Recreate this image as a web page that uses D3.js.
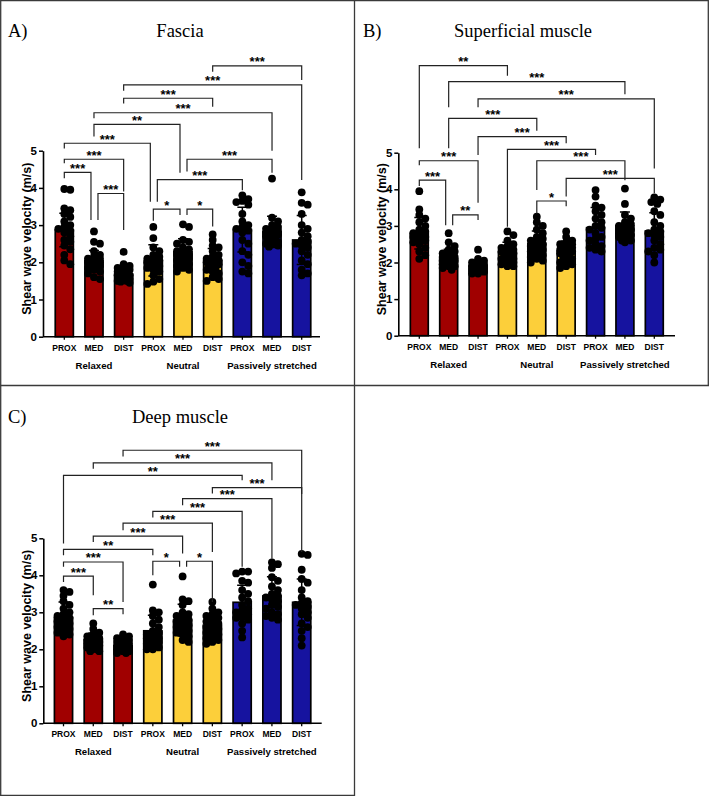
<!DOCTYPE html>
<html><head><meta charset="utf-8">
<script src="https://cdn.jsdelivr.net/npm/d3@7"></script>
<style>body{margin:0;background:#fff}svg{display:block}</style>
</head><body>
<svg id="chart" width="709" height="796"></svg>
<script>
// ---------------- data ----------------
const categories = ["PROX","MED","DIST","PROX","MED","DIST","PROX","MED","DIST"];
const groups = ["Relaxed","Neutral","Passively stretched"];
const groupOfBar = [0,0,0,1,1,1,2,2,2];
const yTicks = [0,1,2,3,4,5];
const titles = ["Fascia","Superficial muscle","Deep muscle"];
const panelLetters = ["A)","B)","C)"];
const yLabel = "Shear wave velocity (m/s)";

const fasciaMean = [2.87,2.05,1.68,2.05,2.28,2.05,2.88,2.82,2.60];
const fasciaSD   = [0.45,0.27,0.18,0.42,0.35,0.32,0.60,0.42,0.66];
const fasciaPoints = [
  [3.97,3.95,3.45,3.4,3.3,3.22,3.1,3.0,2.95,2.9,2.85,2.8,2.7,2.6,2.55,2.45,2.35,2.2,2.05,1.95],
  [2.83,2.55,2.5,2.3,2.2,2.15,2.1,2.1,2.05,2.05,2.0,2.0,1.95,1.9,1.85,1.8,1.75,1.7,1.6,1.55],
  [2.28,1.95,1.9,1.85,1.8,1.8,1.75,1.7,1.7,1.68,1.65,1.65,1.6,1.6,1.55,1.55,1.5,1.5,1.48,1.45],
  [2.95,2.65,2.4,2.3,2.2,2.15,2.1,2.05,2.05,2.0,2.0,1.95,1.9,1.85,1.8,1.75,1.65,1.55,1.48,1.42],
  [3.02,2.95,2.6,2.55,2.5,2.4,2.35,2.3,2.25,2.2,2.2,2.15,2.1,2.05,2.0,1.95,1.9,1.85,1.8,1.75],
  [2.75,2.6,2.45,2.4,2.3,2.2,2.15,2.1,2.05,2.0,2.0,1.95,1.9,1.85,1.8,1.75,1.7,1.6,1.55,1.5],
  [3.8,3.7,3.65,3.62,3.55,3.3,3.1,3.0,2.95,2.9,2.85,2.8,2.6,2.5,2.3,2.2,2.0,1.9,1.75,1.7],
  [4.25,3.2,3.1,3.0,2.95,2.9,2.85,2.85,2.8,2.8,2.75,2.75,2.7,2.65,2.6,2.55,2.5,2.5,2.45,2.42],
  [3.88,3.6,3.55,3.3,3.0,2.9,2.8,2.7,2.6,2.55,2.5,2.45,2.4,2.3,2.2,2.05,1.95,1.8,1.7,1.65]
];
// [from bar, to bar, bracket level, left leg end, right leg end, label]
const fasciaSig = [
  [5,8,7.28,7.12,6.90,"***"],
  [2,8,6.77,6.61,4.21,"***"],
  [2,5,6.41,6.27,6.18,"***"],
  [1,7,6.02,5.87,5.00,"***"],
  [1,4,5.71,5.38,4.41,"**"],
  [0,3,5.20,5.06,3.63,"***"],
  [0,2,4.77,4.66,3.90,"***"],
  [0,1,4.42,4.26,3.14,"***"],
  [1,2,3.85,3.14,2.87,"***"],
  [4,7,4.77,4.44,4.41,"***"],
  [3,6,4.22,3.63,3.94,"***"],
  [3,4,3.43,3.12,3.27,"*"],
  [4,5,3.43,3.27,2.96,"*"]
];

const superficialMean = [2.80,2.11,1.91,2.28,2.52,2.32,2.95,3.00,2.86];
const superficialSD   = [0.43,0.25,0.15,0.27,0.34,0.27,0.55,0.38,0.50];
const superficialPoints = [
  [3.95,3.45,3.3,3.2,3.1,3.0,2.9,2.85,2.8,2.75,2.7,2.7,2.65,2.6,2.55,2.5,2.4,2.3,2.2,2.1],
  [2.8,2.55,2.45,2.35,2.3,2.25,2.2,2.15,2.15,2.1,2.1,2.05,2.05,2.0,2.0,1.95,1.9,1.9,1.85,1.8],
  [2.35,2.1,2.05,2.0,2.0,1.95,1.95,1.9,1.9,1.9,1.85,1.85,1.85,1.8,1.8,1.8,1.75,1.75,1.7,1.7],
  [2.85,2.75,2.6,2.5,2.45,2.4,2.35,2.3,2.3,2.25,2.2,2.2,2.15,2.1,2.1,2.05,2.0,1.95,1.9,1.9],
  [3.25,3.1,3.0,2.9,2.8,2.7,2.65,2.6,2.55,2.5,2.45,2.4,2.35,2.3,2.25,2.2,2.15,2.1,2.05,2.0],
  [2.85,2.7,2.6,2.55,2.5,2.5,2.45,2.4,2.35,2.3,2.3,2.25,2.2,2.15,2.1,2.05,2.0,1.95,1.9,1.85],
  [3.98,3.8,3.55,3.5,3.4,3.3,3.2,3.1,3.0,2.95,2.9,2.8,2.7,2.65,2.6,2.5,2.45,2.4,2.35,2.3],
  [4.02,3.6,3.3,3.2,3.1,3.05,3.0,2.95,2.9,2.9,2.85,2.85,2.8,2.75,2.75,2.7,2.65,2.6,2.6,2.55],
  [3.78,3.72,3.65,3.6,3.4,3.3,3.1,3.0,2.9,2.85,2.8,2.75,2.7,2.6,2.5,2.4,2.35,2.3,2.2,2.0]
];
const superficialSig = [
  [0,3,7.38,5.12,7.10,"**"],
  [1,7,6.94,6.24,6.60,"***"],
  [2,8,6.47,6.24,4.57,"***"],
  [1,4,5.94,5.12,5.60,"***"],
  [2,5,5.44,4.94,5.26,"***"],
  [3,6,5.09,2.98,4.94,"***"],
  [0,2,4.78,4.66,3.63,"***"],
  [4,7,4.78,3.98,4.25,"***"],
  [0,1,4.25,4.09,3.02,"***"],
  [5,8,4.30,3.80,3.89,"***"],
  [1,2,3.30,3.02,3.16,"**"],
  [4,5,3.68,3.34,3.54,"*"]
];

const deepMean = [2.86,2.26,2.10,2.50,2.79,2.65,3.27,3.44,3.27];
const deepSD   = [0.42,0.18,0.12,0.42,0.43,0.30,0.46,0.52,0.63];
const deepPoints = [
  [3.6,3.55,3.45,3.3,3.2,3.1,3.0,2.95,2.9,2.85,2.8,2.75,2.7,2.65,2.6,2.55,2.5,2.45,2.4,2.35],
  [2.7,2.55,2.45,2.4,2.35,2.3,2.3,2.25,2.25,2.2,2.2,2.2,2.15,2.15,2.1,2.1,2.05,2.0,1.95,1.95],
  [2.4,2.35,2.3,2.25,2.25,2.2,2.2,2.15,2.15,2.1,2.1,2.1,2.05,2.05,2.0,2.0,1.95,1.95,1.9,1.9],
  [3.75,3.05,3.0,2.9,2.8,2.7,2.6,2.5,2.45,2.4,2.35,2.3,2.3,2.25,2.2,2.15,2.1,2.05,2.0,2.0],
  [3.97,3.35,3.3,3.2,3.0,2.95,2.9,2.85,2.8,2.75,2.7,2.65,2.6,2.55,2.5,2.45,2.4,2.35,2.25,2.2],
  [3.28,3.1,3.0,2.95,2.9,2.85,2.8,2.75,2.7,2.65,2.6,2.55,2.5,2.45,2.4,2.35,2.3,2.25,2.2,2.15],
  [4.1,4.1,4.05,3.85,3.8,3.6,3.5,3.4,3.3,3.2,3.1,3.05,3.0,2.95,2.9,2.85,2.8,2.7,2.5,2.32],
  [4.35,4.3,4.2,3.95,3.85,3.7,3.6,3.5,3.45,3.4,3.35,3.3,3.2,3.15,3.1,3.0,2.95,2.9,2.85,2.8],
  [4.58,4.55,4.15,3.9,3.8,3.6,3.4,3.3,3.25,3.2,3.15,3.1,3.0,2.95,2.85,2.7,2.6,2.5,2.3,2.1]
];
const deepSig = [
  [2,8,7.38,7.21,4.63,"***"],
  [1,7,7.04,6.88,6.57,"***"],
  [0,6,6.70,4.86,6.57,"**"],
  [5,8,6.37,6.21,6.20,"***"],
  [4,7,6.07,5.89,4.45,"***"],
  [3,6,5.73,5.56,4.23,"***"],
  [2,5,5.41,5.22,4.63,"***"],
  [1,4,5.06,4.90,4.59,"***"],
  [0,3,4.70,4.54,4.54,"**"],
  [0,2,4.36,4.23,3.28,"***"],
  [0,1,3.98,3.82,3.46,"***"],
  [3,4,4.38,4.00,4.23,"*"],
  [4,5,4.38,4.23,3.28,"*"],
  [1,2,3.10,2.92,2.95,"**"]
];

// ---------------- styling / layout ----------------
const groupColors = ["#a00000","#fccf3a","#16139f"];
const sansFont = "'Liberation Sans', Arial, sans-serif";
const serifFont = "'Liberation Serif', 'Times New Roman', serif";

const panels = [
  {mean:fasciaMean, sd:fasciaSD, pts:fasciaPoints, sig:fasciaSig,
   axisX:43, xEnd:320, y0:336.7, y5:150.7, b0:64.3, b8:301.7, titleX:180, titleY:37.3, letterX:8},
  {mean:superficialMean, sd:superficialSD, pts:superficialPoints, sig:superficialSig,
   axisX:398.3, xEnd:675, y0:335.7, y5:152.7, b0:419.3, b8:654.3, titleX:523, titleY:37.3, letterX:363},
  {mean:deepMean, sd:deepSD, pts:deepPoints, sig:deepSig,
   axisX:43.3, xEnd:321.7, y0:723.3, y5:538.3, b0:63.5, b8:301.7, titleX:180, titleY:422.5, letterX:8}
];

const svg = d3.select("#chart");
svg.append("rect").attr("width",709).attr("height",796).attr("fill","#fff");

// panel frames
const frame = svg.append("g").attr("stroke","#3a3a3a").attr("stroke-width",1.3).attr("fill","none");
frame.append("path").attr("d","M0.7,795.4 V0.7 H708.3 V385.5");
frame.append("path").attr("d","M0,385.5 H709");
frame.append("path").attr("d","M354.5,0 V795.4 H0");

panels.forEach((P, pi) => {
  const g = svg.append("g");
  const step = (P.b8 - P.b0) / 8;
  const x = d3.scaleBand().domain(d3.range(9))
      .range([P.b0 - step/2, P.b8 + step/2]).paddingInner(0.39).paddingOuter(0.195);
  const cx = i => x(i) + x.bandwidth()/2;
  const y = d3.scaleLinear().domain([0,5]).range([P.y0, P.y5]);

  // title & letter
  g.append("text").attr("x",P.titleX).attr("y",P.titleY).attr("text-anchor","middle")
    .attr("font-family",serifFont).attr("font-size",18.5).text(titles[pi]);
  g.append("text").attr("x",P.letterX).attr("y",P.titleY)
    .attr("font-family",serifFont).attr("font-size",18.5).text(panelLetters[pi]);

  // bars
  g.selectAll("rect.bar").data(P.mean).join("rect").attr("class","bar")
    .attr("x",(d,i)=>x(i)).attr("width",x.bandwidth())
    .attr("y",d=>y(d)).attr("height",d=>y(0)-y(d))
    .attr("fill",(d,i)=>groupColors[groupOfBar[i]])
    .attr("stroke","#000").attr("stroke-width",1.7);

  // points (simple swarm)
  const dots = [];
  P.pts.forEach((vals, i) => {
    const placed = [];
    const offs = [0, 3, -3, 6, -6];
    vals.slice().sort((a,b)=>b-a).forEach(v => {
      const py = y(v);
      let best = 0, bestD = -1;
      for (const o of offs) {
        let md = Infinity;
        for (const p of placed) md = Math.min(md, Math.hypot(p.o - o, p.y - py));
        if (md >= 5.2) { best = o; bestD = Infinity; break; }
        if (md > bestD) { bestD = md; best = o; }
      }
      placed.push({o:best, y:py});
      dots.push({x: cx(i) + best, y: py});
    });
  });
  g.selectAll("circle.dot").data(dots).join("circle").attr("class","dot")
    .attr("cx",d=>d.x).attr("cy",d=>d.y).attr("r",3.9).attr("fill","#000");

  // error bars
  const eb = g.append("g").attr("stroke","#000").attr("stroke-width",1.5).attr("fill","none");
  P.mean.forEach((m,i) => {
    const s = P.sd[i], c = cx(i);
    eb.append("path").attr("d",
      `M${c},${y(m-s)}V${y(m+s)}M${c-5},${y(m+s)}H${c+5}M${c-5},${y(m-s)}H${c+5}`);
  });

  // axes
  const ya = g.append("g").attr("transform",`translate(${P.axisX},0)`)
    .call(d3.axisLeft(y).tickValues(yTicks).tickFormat(d3.format("d"))
      .tickSize(4).tickPadding(2).tickSizeOuter(0));
  ya.select(".domain").attr("stroke","#000").attr("stroke-width",1.6);
  ya.selectAll(".tick line").attr("stroke","#000").attr("stroke-width",1.5);
  ya.selectAll(".tick text").attr("font-family",sansFont).attr("font-weight","bold")
    .attr("font-size",11.5).attr("fill","#000");

  const xa = g.append("g").attr("transform",`translate(0,${P.y0})`)
    .call(d3.axisBottom(x).tickSize(3).tickPadding(5).tickFormat(i=>categories[i]));
  xa.select(".domain").remove();
  xa.selectAll(".tick line").attr("stroke","#000").attr("stroke-width",1.3);
  xa.selectAll(".tick text").attr("font-family",sansFont).attr("font-weight","bold")
    .attr("font-size",8.5).attr("fill","#000");
  g.append("line").attr("x1",P.axisX).attr("x2",P.xEnd).attr("y1",P.y0).attr("y2",P.y0)
    .attr("stroke","#000").attr("stroke-width",1.6);

  // group labels
  groups.forEach((name, k) => {
    g.append("text").attr("x",cx(k*3+1)).attr("y",P.y0+31.8).attr("text-anchor","middle")
      .attr("font-family",sansFont).attr("font-weight","bold").attr("font-size",9.6)
      .attr("fill","#000").text(name);
  });

  // y label
  const lx = P.axisX - 12.2, ly = (P.y0 + P.y5)/2 - 5;
  g.append("text").attr("transform",`translate(${lx},${ly}) rotate(-90)`)
    .attr("text-anchor","middle").attr("font-family",sansFont).attr("font-weight","bold")
    .attr("font-size",12.5).attr("fill","#000").text(yLabel);

  // significance brackets
  const overlap = (a0,a1,b0,b1) => Math.min(a1,b1) > Math.max(a0,b0);
  const bg = g.append("g");
  P.sig.forEach(s => {
    const [i, j, lev, le, re, lab] = s;
    let xi = cx(i), xj = cx(j);
    // nudge ends where a leg from the opposite side overlaps at the same bar
    if (P.sig.some(t => t !== s && t[1] === i && overlap(t[4], t[2], le, lev))) xi += 4;
    if (P.sig.some(t => t !== s && t[0] === j && overlap(t[3], t[2], re, lev))) xj -= 3;
    bg.append("path").attr("d",`M${xi},${y(le)}V${y(lev)}H${xj}V${y(re)}`)
      .attr("fill","none").attr("stroke","#222").attr("stroke-width",1.2);
    bg.append("text").attr("x",(xi+xj)/2).attr("y",y(lev)+0.5).attr("text-anchor","middle")
      .attr("font-family",sansFont).attr("font-weight","bold").attr("font-size",13)
      .attr("fill","#000").text(lab);
  });
});
</script>
</body></html>
